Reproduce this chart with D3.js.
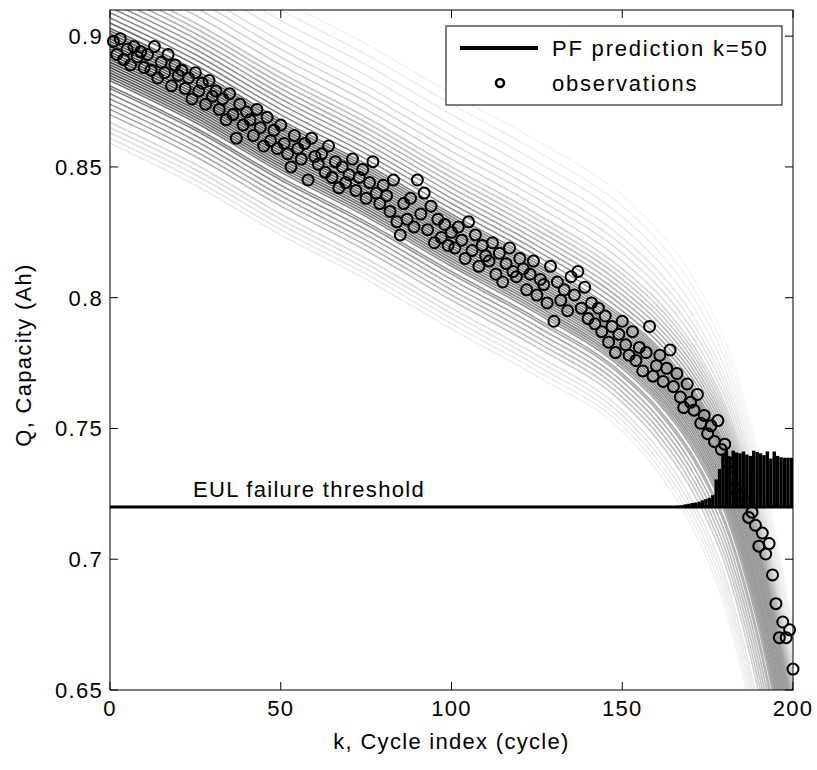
<!DOCTYPE html>
<html>
<head>
<meta charset="utf-8">
<script src="https://cdn.jsdelivr.net/npm/d3@7"></script>
<style>
  body { margin: 0; background: #fff; }
  svg text { font-family: "Liberation Sans", Arial, sans-serif; font-size: 22px; letter-spacing: 1.3px; fill: #000; }
  svg .legend text { letter-spacing: 1.8px; }
</style>
</head>
<body>
<svg id="chart" width="817" height="770"></svg>
<script>

// observed capacity, one value per cycle k = 1..200
var obsK = d3.range(1, 201);
var obsQ = [
  0.898,0.893,0.899,0.891,0.895,0.889,0.896,0.892,0.894,0.888,
  0.893,0.887,0.896,0.884,0.890,0.886,0.893,0.881,0.889,0.885,
  0.887,0.880,0.884,0.876,0.886,0.879,0.882,0.874,0.883,0.877,
  0.879,0.872,0.876,0.868,0.878,0.870,0.861,0.874,0.866,0.871,
  0.868,0.862,0.872,0.865,0.858,0.869,0.860,0.864,0.857,0.866,
  0.859,0.855,0.850,0.862,0.857,0.853,0.859,0.845,0.861,0.854,
  0.851,0.855,0.848,0.858,0.846,0.852,0.842,0.850,0.844,0.847,
  0.853,0.841,0.846,0.849,0.838,0.844,0.852,0.840,0.836,0.843,
  0.839,0.833,0.845,0.829,0.824,0.836,0.830,0.838,0.827,0.845,
  0.832,0.840,0.826,0.835,0.821,0.830,0.823,0.828,0.820,0.825,
  0.819,0.827,0.822,0.815,0.829,0.818,0.824,0.812,0.820,0.816,
  0.814,0.821,0.809,0.817,0.806,0.813,0.819,0.810,0.808,0.815,
  0.811,0.803,0.809,0.814,0.801,0.807,0.805,0.798,0.812,0.791,
  0.806,0.799,0.803,0.795,0.808,0.801,0.810,0.796,0.804,0.792,
  0.798,0.790,0.796,0.787,0.793,0.783,0.789,0.779,0.786,0.791,
  0.782,0.778,0.787,0.776,0.781,0.772,0.779,0.789,0.770,0.774,
  0.778,0.768,0.773,0.780,0.766,0.771,0.762,0.758,0.767,0.760,
  0.757,0.763,0.752,0.755,0.748,0.751,0.745,0.753,0.742,0.744,
  0.737,0.731,0.727,0.724,0.725,0.722,0.716,0.718,0.713,0.705,
  0.710,0.702,0.706,0.694,0.683,0.670,0.676,0.670,0.673,0.658
];

// PF degradation curve the particles follow (knots)
var baseK = [0, 25, 50, 75, 100, 125, 150, 160, 170, 175, 180, 185, 190, 195, 200, 205];
var baseQ = [0.897, 0.881, 0.862, 0.845, 0.826, 0.808, 0.787, 0.776, 0.761, 0.751, 0.739, 0.722, 0.700, 0.672, 0.638, 0.600];
// how far the particles spread from that curve, below and above it, at the same knots
var spreadBelow = [1, 1, 1, 1, 1, 1, 1, 1.1, 1.25, 1.35, 1.5, 1.7, 1.9, 2.1, 2.3, 2.5];
var spreadAbove = [1, 1, 1, 1, 1, 1, 1, 0.97, 0.93, 0.9, 0.86, 0.81, 0.76, 0.72, 0.7, 0.7];

// particles: offset from the curve, and grey level at the left end (0 black .. 255 white)
var particleOffset = [
  -0.038, -0.036, -0.034, -0.032, -0.030,
  -0.027, -0.025, -0.023, -0.021, -0.019, -0.017, -0.016, -0.014, -0.013,
  -0.012, -0.011, -0.010, -0.009, -0.008, -0.007, -0.006, -0.005, -0.004, -0.003,
  -0.002, -0.001, 0.000, 0.001, 0.002, 0.003, 0.004, 0.005, 0.006,
  0.008, 0.010, 0.012, 0.014, 0.016, 0.018, 0.020, 0.022, 0.024,
  0.027, 0.030, 0.033, 0.036, 0.040, 0.044, 0.048, 0.052
];
var particleGrey = [
  232, 226, 220, 215, 210,
  175, 160, 150, 140, 130, 125, 118, 110, 105,
  90, 80, 95, 75, 85, 70, 90, 75, 80, 70,
  85, 75, 90, 80, 95, 85, 100, 95, 105,
  110, 120, 130, 140, 150, 160, 170, 180, 188,
  198, 205, 212, 218, 224, 230, 235, 240
];
var fadeRight = 0.45;

// RUL histogram drawn on top of the failure threshold, k = 166..199
var pdfK = d3.range(166, 200);
var pdfQ = [
  0.7205, 0.7207, 0.7210, 0.7212, 0.7215, 0.7217, 0.7220, 0.7225, 0.7230, 0.7235,
  0.7245, 0.7305, 0.7345, 0.7405, 0.7415, 0.7392, 0.7415, 0.7408, 0.7405, 0.7412,
  0.7400, 0.7395, 0.7415, 0.7410, 0.7405, 0.7398, 0.7412, 0.7385, 0.7412, 0.7395,
  0.7390, 0.7388, 0.7388, 0.7388
];

var threshold = 0.72;
var xTicks = [0, 50, 100, 150, 200];
var yTicks = [0.65, 0.7, 0.75, 0.8, 0.85, 0.9];

var plot = { left: 110, right: 793, top: 10, bottom: 690 };

var x = d3.scaleLinear().domain([0, 200]).range([plot.left, plot.right]);
var y = d3.scaleLinear().domain([0.65, 0.91]).range([plot.bottom, plot.top]);

var svg = d3.select('#chart');
var defs = svg.append('defs');

defs.append('clipPath').attr('id', 'clip')
  .append('rect')
    .attr('x', plot.left).attr('y', plot.top)
    .attr('width', plot.right - plot.left).attr('height', plot.bottom - plot.top);

var g = svg.append('g').attr('clip-path', 'url(#clip)');

var particles = particleOffset.map(function(o, i) {
  return { id: i, off: o, grey: particleGrey[i] };
}).sort(function(a, b) { return b.grey - a.grey; });

// each particle gets lighter towards the right
particles.forEach(function(d) {
  var end = Math.round(d.grey + (255 - d.grey) * fadeRight);
  var grad = defs.append('linearGradient')
    .attr('id', 'fade' + d.id)
    .attr('gradientUnits', 'userSpaceOnUse')
    .attr('x1', plot.left).attr('x2', plot.right).attr('y1', 0).attr('y2', 0);
  grad.append('stop').attr('offset', 0).attr('stop-color', d3.rgb(d.grey, d.grey, d.grey));
  grad.append('stop').attr('offset', 1).attr('stop-color', d3.rgb(end, end, end));
});

var line = d3.line()
  .x(function(d) { return x(d[0]); })
  .y(function(d) { return y(d[1]); })
  .curve(d3.curveMonotoneX);

g.selectAll('path.particle')
  .data(particles)
  .enter().append('path')
    .attr('class', 'particle')
    .attr('fill', 'none')
    .attr('stroke-width', 1.6)
    .attr('stroke', function(d) { return 'url(#fade' + d.id + ')'; })
    .attr('d', function(d) {
      var s = d.off < 0 ? spreadBelow : spreadAbove;
      return line(baseK.map(function(k, i) { return [k, baseQ[i] + d.off * s[i]]; }));
    });

// threshold line
g.append('line')
  .attr('x1', x(0)).attr('x2', x(200))
  .attr('y1', y(threshold)).attr('y2', y(threshold))
  .attr('stroke', '#000').attr('stroke-width', 3);

// RUL pdf bars
g.selectAll('rect.pdf')
  .data(pdfK)
  .enter().append('rect')
    .attr('class', 'pdf')
    .attr('x', function(k) { return x(k); })
    .attr('width', x(1) - x(0))
    .attr('y', function(k, i) { return y(pdfQ[i]); })
    .attr('height', function(k, i) { return y(threshold) - y(pdfQ[i]); })
    .attr('fill', '#000');

// observations
svg.append('g').selectAll('circle')
  .data(obsK)
  .enter().append('circle')
    .attr('cx', function(k) { return x(k); })
    .attr('cy', function(k, i) { return y(obsQ[i]); })
    .attr('r', 5.5)
    .attr('fill', 'none')
    .attr('stroke', '#000')
    .attr('stroke-width', 2);

// frame and ticks
svg.append('rect')
  .attr('x', plot.left).attr('y', plot.top)
  .attr('width', plot.right - plot.left).attr('height', plot.bottom - plot.top)
  .attr('fill', 'none').attr('stroke', '#000').attr('stroke-width', 1);

var tickLen = 8;
var axes = svg.append('g').attr('stroke', '#000').attr('stroke-width', 1);
xTicks.forEach(function(t) {
  axes.append('line').attr('x1', x(t)).attr('x2', x(t)).attr('y1', plot.bottom).attr('y2', plot.bottom - tickLen);
  axes.append('line').attr('x1', x(t)).attr('x2', x(t)).attr('y1', plot.top).attr('y2', plot.top + tickLen);
});
yTicks.forEach(function(t) {
  axes.append('line').attr('x1', plot.left).attr('x2', plot.left + tickLen).attr('y1', y(t)).attr('y2', y(t));
  axes.append('line').attr('x1', plot.right).attr('x2', plot.right - tickLen).attr('y1', y(t)).attr('y2', y(t));
});

svg.append('g').selectAll('text')
  .data(xTicks)
  .enter().append('text')
    .attr('x', function(t) { return x(t); })
    .attr('y', 716)
    .attr('text-anchor', 'middle')
    .text(function(t) { return t; });

svg.append('g').selectAll('text')
  .data(yTicks)
  .enter().append('text')
    .attr('x', 103)
    .attr('y', function(t) { return y(t) + 8; })
    .attr('text-anchor', 'end')
    .text(function(t) { return String(t); });

svg.append('text')
  .attr('x', (plot.left + plot.right) / 2)
  .attr('y', 749)
  .attr('text-anchor', 'middle')
  .text('k, Cycle index (cycle)');

svg.append('text')
  .attr('transform', 'translate(31,' + ((plot.top + plot.bottom) / 2 + 5) + ') rotate(-90)')
  .attr('text-anchor', 'middle')
  .text('Q, Capacity (Ah)');

svg.append('text')
  .attr('x', 193)
  .attr('y', 497)
  .text('EUL failure threshold');

// legend
var leg = svg.append('g').attr('class', 'legend');
leg.append('rect')
  .attr('x', 446).attr('y', 26).attr('width', 336).attr('height', 79)
  .attr('fill', '#fff').attr('stroke', '#000').attr('stroke-width', 1);
leg.append('line')
  .attr('x1', 460).attr('x2', 538).attr('y1', 48).attr('y2', 48)
  .attr('stroke', '#000').attr('stroke-width', 4);
leg.append('circle')
  .attr('cx', 500).attr('cy', 83).attr('r', 4)
  .attr('fill', 'none').attr('stroke', '#000').attr('stroke-width', 2.5);
leg.append('text').attr('x', 552).attr('y', 56).text('PF prediction k=50');
leg.append('text').attr('x', 552).attr('y', 91).text('observations');

</script>
</body>
</html>
